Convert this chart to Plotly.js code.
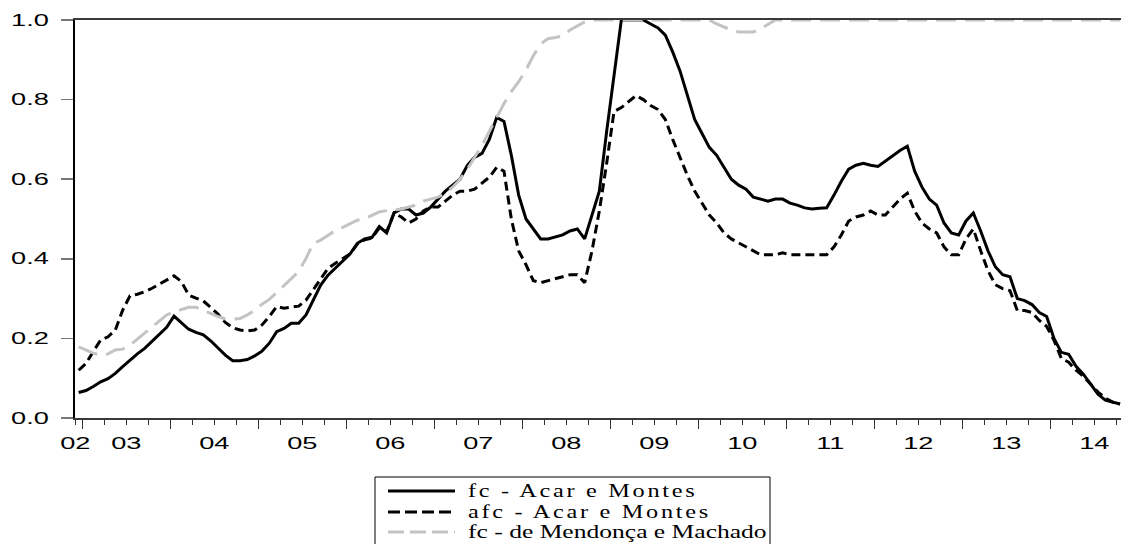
<!DOCTYPE html>
<html>
<head>
<meta charset="utf-8">
<script src="https://cdn.plot.ly/plotly-3.0.1.min.js"></script>
<style>
  body { margin: 0; background: #fff; }
  g.xtick { transform-box: fill-box; transform-origin: center; transform: scaleX(1.7); }
  g.ytick { transform-box: fill-box; transform-origin: right center; transform: scaleX(1.7); }
  text.annotation-text { letter-spacing: 2px; transform-box: fill-box; transform-origin: left center; transform: scaleX(1.35); }
  g.annotation[data-index="2"] text.annotation-text { letter-spacing: 0px; transform: translateX(-26px) scaleX(1.42); }
</style>
</head>
<body>
<div id="chart" style="width:1121px;height:544px"></div>
<script>
// ---- data (monthly, first observation Dec 2002) ----
const startYear = 2002, startMonth = 12;
const seriesNames = ['fc - Acar e Montes', 'afc - Acar e Montes', 'fc - de Mendonça e Machado'];
const yearLabels = ['02','03','04','05','06','07','08','09','10','11','12','13','14'];
const yTickVals = [0, 0.2, 0.4, 0.6, 0.8, 1.0];
const yTickText = ['0.0','0.2','0.4','0.6','0.8','1.0'];

const fc = [
  0.064,
  0.069,0.079,0.091,0.099,0.112,0.129,0.146,0.161,0.175,0.192,0.210,0.228,
  0.256,0.240,0.223,0.215,0.209,0.194,0.175,0.158,0.144,0.144,0.147,0.156,
  0.168,0.188,0.217,0.225,0.238,0.238,0.259,0.296,0.334,0.359,0.376,0.393,
  0.412,0.439,0.450,0.454,0.481,0.465,0.515,0.525,0.525,0.510,0.515,0.530,
  0.550,0.570,0.585,0.600,0.635,0.655,0.665,0.700,0.755,0.745,0.660,0.560,
  0.500,0.475,0.450,0.450,0.455,0.460,0.470,0.475,0.450,0.510,0.570,0.720,
  0.860,1.000,1.000,1.000,1.000,0.990,0.980,0.962,0.920,0.872,0.810,0.750,
  0.715,0.680,0.660,0.630,0.600,0.585,0.575,0.555,0.550,0.545,0.550,0.550,
  0.540,0.535,0.528,0.525,0.527,0.528,0.560,0.595,0.625,0.635,0.640,0.635,
  0.632,0.645,0.660,0.672,0.683,0.620,0.580,0.550,0.535,0.490,0.465,0.460,
  0.495,0.515,0.470,0.420,0.380,0.360,0.355,0.300,0.295,0.285,0.265,0.255,
  0.200,0.165,0.160,0.130,0.110,0.085,0.060,0.045,0.040,0.035
];
const afc = [
  0.120,
  0.137,0.167,0.196,0.204,0.221,0.271,0.307,0.311,0.317,0.326,0.337,0.347,
  0.357,0.343,0.309,0.301,0.294,0.278,0.261,0.240,0.227,0.221,0.219,0.221,
  0.234,0.255,0.280,0.276,0.278,0.281,0.296,0.322,0.351,0.376,0.389,0.400,
  0.412,0.437,0.448,0.452,0.478,0.468,0.515,0.505,0.490,0.500,0.520,0.530,
  0.530,0.545,0.560,0.570,0.570,0.575,0.590,0.605,0.630,0.620,0.500,0.420,
  0.385,0.345,0.340,0.345,0.350,0.355,0.360,0.360,0.340,0.420,0.520,0.640,
  0.770,0.780,0.795,0.810,0.800,0.785,0.775,0.750,0.700,0.655,0.610,0.570,
  0.540,0.510,0.490,0.465,0.450,0.440,0.430,0.420,0.410,0.410,0.410,0.415,
  0.410,0.410,0.410,0.410,0.410,0.410,0.430,0.460,0.495,0.505,0.510,0.520,
  0.510,0.510,0.530,0.550,0.565,0.520,0.490,0.475,0.465,0.430,0.410,0.410,
  0.450,0.475,0.420,0.370,0.335,0.325,0.320,0.270,0.270,0.265,0.245,0.230,
  0.195,0.150,0.140,0.120,0.105,0.085,0.065,0.050,0.040,0.035
];
const fcMM = [
  0.179,
  0.171,0.163,0.158,0.161,0.171,0.173,0.183,0.198,0.213,0.229,0.244,0.259,
  0.267,0.273,0.278,0.278,0.271,0.263,0.255,0.249,0.248,0.250,0.259,0.271,
  0.286,0.298,0.315,0.332,0.349,0.368,0.401,0.439,0.447,0.460,0.471,0.479,
  0.489,0.497,0.501,0.509,0.518,0.521,0.523,0.525,0.530,0.535,0.545,0.550,
  0.555,0.565,0.580,0.600,0.625,0.655,0.685,0.720,0.755,0.790,0.820,0.845,
  0.875,0.910,0.940,0.953,0.956,0.960,0.975,0.985,0.995,1.000,1.000,1.000,
  1.000,1.000,1.000,1.000,1.000,1.000,1.000,1.000,1.000,1.000,1.000,1.000,
  1.000,1.000,0.990,0.982,0.975,0.970,0.970,0.970,0.978,0.990,1.000,1.000,
  1.000,1.000,1.000,1.000,1.000,1.000,1.000,1.000,1.000,1.000,1.000,1.000,
  1.000,1.000,1.000,1.000,1.000,1.000,1.000,1.000,1.000,1.000,1.000,1.000,
  1.000,1.000,1.000,1.000,1.000,1.000,1.000,1.000,1.000,1.000,1.000,1.000,
  1.000,1.000,1.000,1.000,1.000,1.000,1.000,1.000,1.000,1.000
];

// ---- time axis: each month placed at its mid-point, in fractional years ----
const t = fc.map((_, k) => startYear + (startMonth - 1 + k + 0.5) / 12);

// ---- geometry ----
const W = 1121, H = 544, L = 75, T = 20, BOT = 418;
const plotW = W - L;
const pxPerYear = 88;
const xStart = startYear + (startMonth - 1) / 12;
const xEnd = xStart + plotW / pxPerYear;

const firstFull = startYear + 1, lastYear = 2014;
const labelVals = [xStart + 0.004];
for (let y = firstFull; y <= lastYear; y++) labelVals.push(y + 0.5);
const yearVals = [];
const quarterVals = [];
for (let y = firstFull; y <= lastYear; y++) {
  yearVals.push(y);
  for (let q = 0; q < 4; q++) quarterVals.push(y + q * 0.25);
}

const tickFont = { family: 'Liberation Sans, Arial, sans-serif', size: 16, color: '#000' };

const traces = [
  { x: t, y: fc, name: seriesNames[0], type: 'scatter', mode: 'lines',
    line: { color: '#000000', width: 3 } },
  { x: t, y: afc, name: seriesNames[1], type: 'scatter', mode: 'lines',
    line: { color: '#000000', width: 3, dash: '9px,5px' } },
  { x: t, y: fcMM, name: seriesNames[2], type: 'scatter', mode: 'lines',
    line: { color: '#c3c3c3', width: 3, dash: '20px,9px' } },
  { x: [], y: [], xaxis: 'x2', showlegend: false, hoverinfo: 'skip', type: 'scatter' }
];

// ---- legend (drawn box, samples and text) ----
const px = v => (v - L) / plotW;
const py = v => (BOT - v) / (BOT - T);
const legRows = [491, 512, 532];
const legStyles = [
  { color: '#000', width: 3, dash: 'solid' },
  { color: '#000', width: 3, dash: '12px,5px' },
  { color: '#c3c3c3', width: 3, dash: '16px,6px' }
];
const shapes = [{
  type: 'rect', xref: 'paper', yref: 'paper',
  x0: px(375), x1: px(770), y0: py(477), y1: py(560),
  line: { color: '#000', width: 1 }, fillcolor: 'rgba(0,0,0,0)'
}];
const annotations = [];
legRows.forEach((r, i) => {
  shapes.push({ type: 'line', xref: 'paper', yref: 'paper',
    x0: px(388), x1: px(455), y0: py(r), y1: py(r), line: legStyles[i] });
  annotations.push({ xref: 'paper', yref: 'paper', x: px(466), y: py(r),
    xanchor: 'left', yanchor: 'middle', showarrow: false, text: seriesNames[i],
    font: { family: 'Liberation Serif, Times New Roman, serif', size: 18, color: '#000' } });
});

const layout = {
  width: W, height: H,
  margin: { l: L, r: 0, t: T, b: H - BOT, pad: 0 },
  paper_bgcolor: '#fff', plot_bgcolor: '#fff',
  showlegend: false,
  xaxis: {
    range: [xStart, xEnd], tickmode: 'array', tickvals: labelVals, ticktext: yearLabels,
    ticks: 'outside', ticklen: 5, tickwidth: 1.5, tickcolor: '#333',
    minor: { tickmode: 'array', tickvals: quarterVals, ticks: 'outside', ticklen: 5,
             tickwidth: 1.5, tickcolor: '#333', showgrid: false },
    ticklabelstandoff: 5,
    showline: true, linecolor: '#3a3a3a', linewidth: 2, mirror: true,
    showgrid: false, zeroline: false, tickfont: tickFont, fixedrange: true
  },
  xaxis2: {
    overlaying: 'x', anchor: 'y', side: 'bottom', range: [xStart, xEnd],
    tickmode: 'array', tickvals: yearVals, ticks: 'outside', ticklen: 10,
    tickwidth: 1.5, tickcolor: '#333', showticklabels: false,
    showline: false, showgrid: false, zeroline: false
  },
  yaxis: {
    range: [0, 1], tickmode: 'array', tickvals: yTickVals, ticktext: yTickText,
    ticks: 'outside', ticklen: 12, tickwidth: 1.5, tickcolor: '#777',
    ticklabelstandoff: 9,
    showline: true, linecolor: '#000', linewidth: 2,
    showgrid: false, zeroline: false, tickfont: tickFont, fixedrange: true
  },
  shapes: shapes,
  annotations: annotations
};

Plotly.newPlot('chart', traces, layout, { staticPlot: true, displayModeBar: false });
</script>
</body>
</html>
